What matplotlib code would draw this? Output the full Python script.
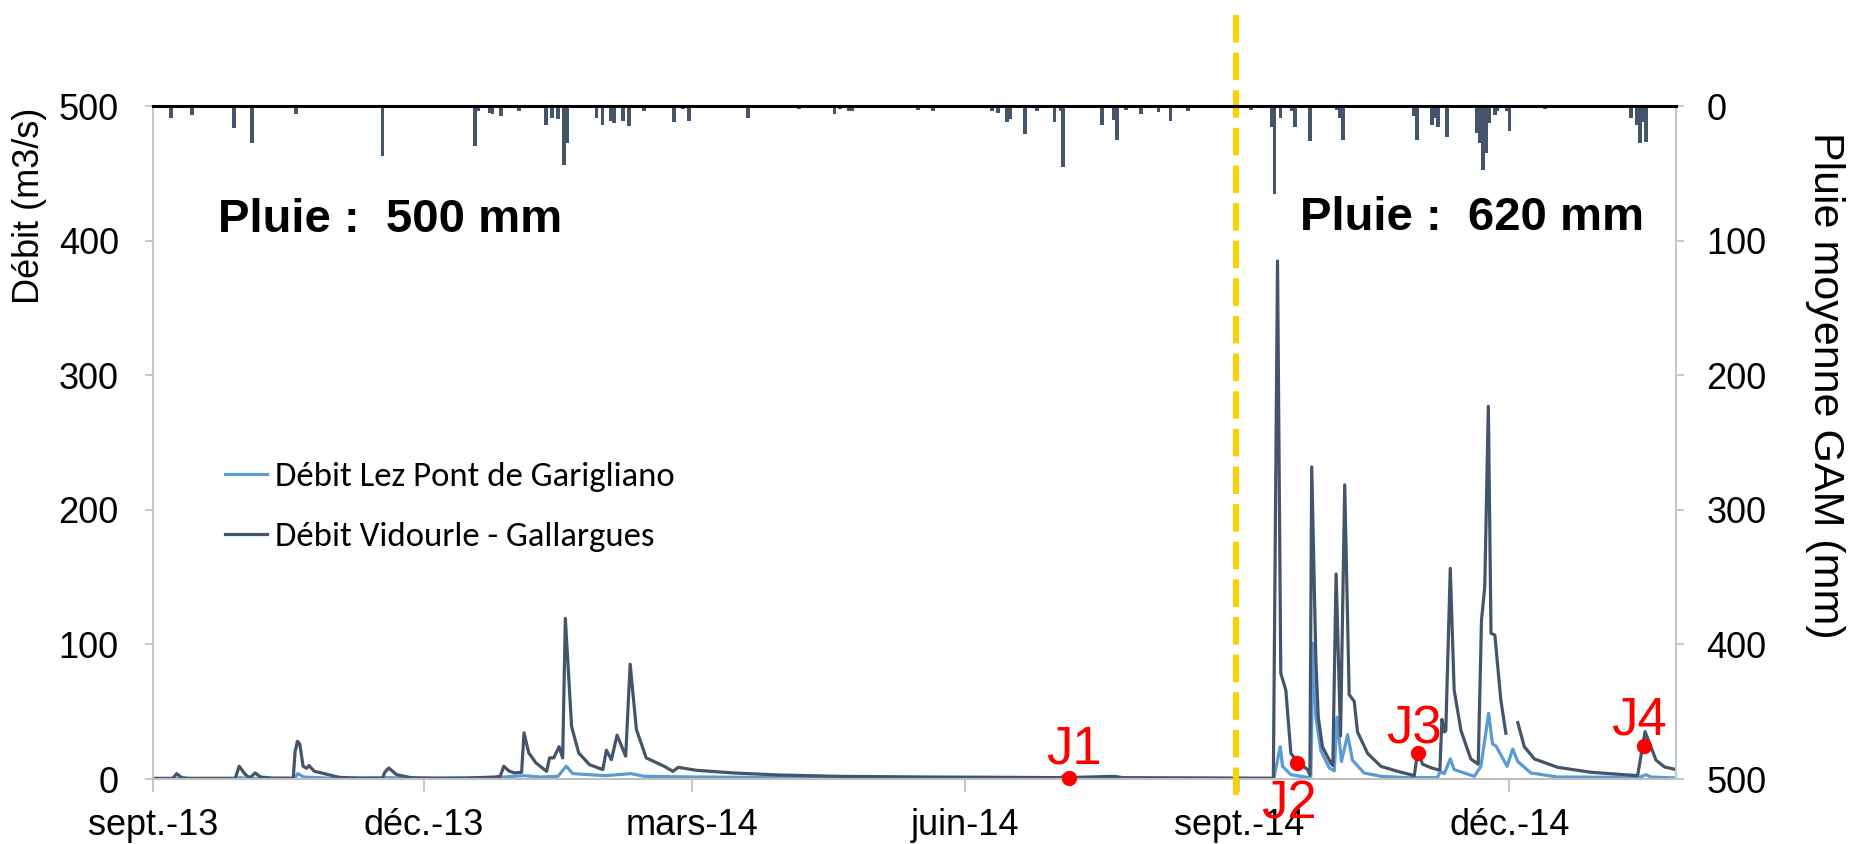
import numpy as np
import matplotlib.pyplot as plt

plt.rcParams['font.family'] = ['Liberation Sans', 'DejaVu Sans']

# ---------------- #
# jours comptes depuis le 1er sept. 2013

start = np.datetime64('2013-09-01')

# pluie journaliere moyenne GAM (jour, mm)
rain = np.array([
    (6, 8.8), (13, 6.8), (27, 16), (33, 27), (48, 5.7), (67, 1.5), (77, 36.8),
    (108, 29.4), (109, 3.5), (113, 4.7), (114, 6), (117, 7.3), (123, 3.5),
    (132, 14), (134, 8.5), (136, 9.7), (138, 43.5), (139, 27.5), (149, 8.5),
    (151, 13.5), (154, 11), (155, 12.3), (158, 11), (160, 14.7), (165, 3.1),
    (175, 11.5), (178, 2), (180, 11), (200, 8.5), (217, 2), (229, 5.6), (231, 2),
    (234, 3.5), (235, 3.5), (257, 2.4), (262, 3.5), (282, 3.5), (284, 4.7),
    (287, 11.5), (288, 9.4), (293, 20.7), (297, 3.5), (303, 11.5), (305, 3.5),
    (306, 45), (319, 14), (323, 10), (324, 25), (327, 2.5), (332, 5.8), (338, 4),
    (342, 11), (348, 3.3),
    (369, 2.5), (376, 15), (377, 65), (379, 8.8), (383, 3.8), (384, 15),
    (389, 25.4), (398, 2.5), (399, 8.8), (400, 25), (424, 7), (425, 25),
    (430, 14), (431, 8.8), (432, 15), (435, 23), (445, 20), (446, 27.5),
    (447, 47.2), (448, 34.8), (449, 12.4), (451, 6.2), (452, 3.8), (455, 3.8),
    (456, 18.6), (468, 2), (497, 8.8), (499, 13.8), (500, 27.5), (501, 11.3),
    (502, 26.3),
])

# debit Vidourle - Gallargues (jour, m3/s)
vidourle = np.array([
    (0, 0.5), (6.5, 0.5), (7.8, 4), (9.5, 1), (12, 0.5), (27.5, 0.5), (28.8, 9.5),
    (31, 3), (32.5, 1), (34.2, 4.5), (36, 1.5), (40, 0.7), (47, 0.6), (47.6, 20),
    (48.4, 28), (49.2, 26), (50.3, 9.5), (51.5, 8), (52.3, 10), (54.1, 5.7),
    (56.5, 4.5), (62.5, 1.2), (70, 0.6), (77, 0.6), (77.8, 5), (79.1, 8.2),
    (81.8, 3.2), (86.6, 1), (95, 0.6), (105, 0.7), (115, 1.5), (116.6, 2),
    (117.8, 9.5), (119.5, 6), (121.4, 4.5), (123.8, 5), (124.6, 34.3),
    (126.2, 19.4), (128.6, 12), (132.2, 5.7), (133.2, 15.7), (134.6, 15.7),
    (136.4, 24), (137.6, 15.7), (138.5, 119.4), (140.6, 39), (143, 19.4),
    (146.6, 10.7), (151.1, 7), (152.3, 21.4), (154, 14.4), (155.9, 32.6),
    (158.8, 17), (160.3, 85.3), (162.4, 36.8), (165.7, 15.7), (171.7, 9.5),
    (174.7, 5.7), (176.5, 8.7), (182.5, 6.5), (195, 4.5), (210, 3), (230, 2),
    (260, 1.5), (290, 1.2), (305, 1.0), (306.5, 2.5), (310, 1.2), (323, 2.0),
    (326, 1.0), (350, 0.8),
    (376.6, 0.5), (378.0, 385), (379.1, 78.6), (380.8, 66), (382.5, 19),
    (384.7, 13), (388.1, 7), (388.9, 3), (389.5, 232), (390.9, 88.5),
    (391.7, 46), (393.1, 24), (395.9, 12), (396.6, 10), (397.7, 152.4),
    (399.2, 32), (400.6, 218.6), (402.1, 62.7), (403.8, 57.7), (404.9, 35),
    (408.3, 19), (412.8, 9.4), (418.4, 5.7), (424.0, 2.5), (425.1, 20),
    (426.8, 11), (429.6, 8.4), (431.8, 7), (432.6, 7), (433.3, 44.4),
    (434.1, 35), (434.6, 36), (436.1, 156.6), (437.4, 66.3), (439.7, 36),
    (443.0, 14.9), (445.5, 11), (446.6, 118), (447.7, 143), (448.9, 277),
    (449.8, 108.3), (451.1, 107), (453.1, 58.8), (454.8, 34), (456.5, np.nan),
    (458.8, 41.9), (461.0, 24), (464.4, 14.9), (472.2, 8.7), (483.4, 5),
    (499.1, 2.5), (501.6, 35.2), (505.3, 14), (508.1, 9), (512.6, 6.7),
])

# debit Lez Pont de Garigliano (jour, m3/s)
lez = np.array([
    (0, 0.3), (28, 0.4), (29, 1.2), (31, 0.4), (47.5, 0.4), (48.5, 4),
    (50.5, 1.5), (60, 0.5), (79, 1), (90, 0.5), (115, 1), (124.6, 2.5),
    (130, 1.5), (136, 2), (138.8, 9.5), (141, 4), (148, 3), (152, 2.5),
    (160.6, 4), (165, 2), (182, 1.5), (230, 0.8), (300, 0.5), (376.8, 0.5),
    (378.9, 24), (379.7, 9.4), (382.5, 3.2), (388.6, 1), (389.2, 2),
    (390.0, 100.9), (390.9, 46), (392.6, 21), (395.4, 8.2), (397.1, 6),
    (398.0, 46), (399.5, 13), (401.6, 33), (403.2, 14), (407.1, 4.5),
    (412.8, 2), (421.7, 1), (431.8, 1), (432.7, 5.7), (434.1, 4), (436.1, 15),
    (437.4, 7), (444.2, 2), (446.4, 9.4), (449.0, 48.8), (450.3, 26),
    (451.5, 24.5), (455.2, 9.4), (457.1, 22.3), (458.8, 13), (463.2, 4.5),
    (472.2, 1.5), (499.7, 1.2), (501.9, 3.2), (503.6, 1.5), (512.6, 0.7),
])

# jalons
j_names = ['J1', 'J2', 'J3', 'J4']
j_days = [308, 384.7, 425.1, 501.2]
j_q = [1, 11.7, 19, 24.8]

pluie_labels = ['Pluie :  500 mm', 'Pluie :  620 mm']

tick_dates = np.array(['2013-09-01', '2013-12-01', '2014-03-01', '2014-06-01',
                       '2014-09-01', '2014-12-01'], dtype='datetime64[D]')
tick_labels = ['sept.-13', 'déc.-13', 'mars-14', 'juin-14', 'sept.-14', 'déc.-14']
split_date = np.datetime64('2014-08-31')
end_date = np.datetime64('2015-01-26')

# ---------------- #

dark = '#44546A'
light = '#5B9BD5'
axis_grey = '#BFC8D3'

fig = plt.figure(figsize=(18.56, 8.44), dpi=100)
ax = fig.add_axes([0.0827, 0.077, 0.8203, 0.797])
ax2 = ax.twinx()

ax.plot(lez[:, 0], lez[:, 1], color=light, lw=2.3, label='Débit Lez Pont de Garigliano')
ax.plot(vidourle[:, 0], vidourle[:, 1], color=dark, lw=2.3, label='Débit Vidourle - Gallargues')

ax2.bar(rain[:, 0], rain[:, 1], width=1.3, color=dark)

tick_pos = (tick_dates - start).astype(int)
ax.set_xlim(0, (end_date - start).astype(int))
ax.set_xticks(tick_pos)
ax.set_xticklabels(tick_labels)
ax.set_ylim(0, 500)
ax.set_yticks(np.arange(0, 501, 100))
ax2.set_ylim(500, 0)
ax2.set_yticks(np.arange(0, 501, 100))

for s in ['top', 'right']:
    ax.spines[s].set_visible(False)
ax.spines['left'].set_color(axis_grey)
ax.spines['left'].set_linewidth(1.5)
ax.spines['bottom'].set_color('#BFBFBF')
ax.spines['bottom'].set_linewidth(1.5)
ax2.spines['left'].set_visible(False)
ax2.spines['bottom'].set_visible(False)
ax2.spines['right'].set_color(axis_grey)
ax2.spines['right'].set_linewidth(1.5)
ax2.spines['top'].set_color('black')
ax2.spines['top'].set_linewidth(2.2)

ax.tick_params(axis='y', labelsize=26, color='#BFBFBF', length=6, width=1.2, pad=19)
ax.tick_params(axis='x', labelsize=26, color='#BFBFBF', length=9, width=1.2, pad=12)
ax2.tick_params(axis='y', labelsize=26, color='#BFBFBF', length=6, width=1.2, pad=16)

# axes labels
fig.text(0.016, 0.756, 'Débit (m3/s)', rotation=90, ha='center', va='center', fontsize=26)
fig.text(0.9833, 0.5438, 'Pluie moyenne GAM (mm)', rotation=-90, ha='center', va='center', fontsize=31)

# cumuls de pluie
ax.text(0.0424, 0.831, pluie_labels[0], transform=ax.transAxes, fontsize=34,
        fontweight='bold', va='center', ha='left')
ax.text(0.753, 0.834, pluie_labels[1], transform=ax.transAxes, fontsize=34,
        fontweight='bold', va='center', ha='left')

# separation des deux periodes
ax.axvline((split_date - start).astype(int), ymin=-0.024, ymax=1.144, clip_on=False,
           color='#FFD000', lw=4.3, dashes=(4.6, 1.7), zorder=5)

# jalons J1..J4
offsets = [(3.4, 10), (-6, -40), (-2.4, 7.5), (-3.6, 7.7)]
ax.plot(j_days, j_q, 'o', color='red', ms=10, zorder=6, clip_on=False)
for name, d, q, off in zip(j_names, j_days, j_q, offsets):
    ax.annotate(name, (d, q), xytext=off, textcoords='offset points', ha='center',
                va='baseline', color='red', fontsize=38, annotation_clip=False, zorder=7)

leg = ax.legend(loc='center left', bbox_to_anchor=(0.047, 0.404), frameon=False,
                prop={'family': ['Carlito', 'Lato'], 'size': 25}, handlelength=1.2,
                handletextpad=0.25, labelspacing=0.85, borderaxespad=0, borderpad=0)

fig.savefig('out.png', dpi=100)
